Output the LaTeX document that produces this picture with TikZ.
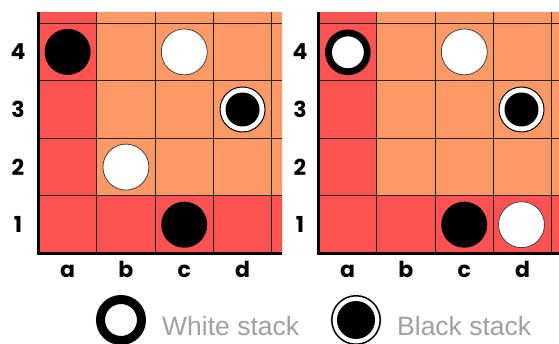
\documentclass[tikz,border=0pt]{standalone}
\usepackage{fontspec}
\setmainfont{Liberation Sans}
\newfontfamily\labfont{Poppins}
\definecolor{cellred}{RGB}{255,82,82}
\definecolor{cellorange}{RGB}{255,153,102}
\definecolor{legendgray}{RGB}{160,160,160}
\tikzset{
  whitepiece/.style={circle, fill=white, draw=black!75, line width=0.8pt, inner sep=0pt, minimum size=46pt},
  blackpiece/.style={circle, fill=black, inner sep=0pt, minimum size=46pt},
  whitestack/.style={circle, fill=white, draw=black, line width=6.8pt, inner sep=0pt, minimum size=38.8pt},
  blackstack/.style={circle, fill=white, draw=black, line width=1pt, inner sep=0pt, minimum size=45pt,
    path picture={\fill[black] (path picture bounding box.center) circle (#1);}},
  blackstack/.default=17pt,
  gridline/.style={line width=0.9pt, draw=black!85},
  boardframe/.style={line width=3pt, draw=black, line join=miter},
  boardlab/.style={font=\labfont\bfseries\fontsize{22}{22}\selectfont, anchor=base, inner sep=0pt},
  legendtext/.style={font=\fontsize{26.5}{26.5}\selectfont, text=legendgray, anchor=base west, inner sep=0pt},
}
\begin{document}
\begin{tikzpicture}[x=1pt,y=-1pt]
\useasboundingbox (0,0) rectangle (559,344);
% boards
\foreach \ox/\ex/\side in {38.5/282/L, 318.5/559/R}{
  \begin{scope}
    \clip (\ox,12) rectangle (\ex,253.5);
    \fill[cellorange] (\ox,12) rectangle (\ox+300,253.5);
    \fill[cellred] (\ox,12) rectangle (\ox+58.3,253.5);
    \fill[cellred] (\ox,195.9) rectangle (\ox+300,253.5);
    \foreach \i in {1,...,4}{
      \draw[gridline] (\ox+\i*58.3,12) -- (\ox+\i*58.3,253.5);
      \draw[gridline] (\ox,253.5-\i*57.6) -- (\ex,253.5-\i*57.6);
    }
  \end{scope}
  \draw[boardframe] (\ox,12) -- (\ox,253.5) -- (\ex,253.5);
}
% row labels
\foreach \r/\y in {4/60, 3/117.6, 2/175.2, 1/232.8}{
  \node[boardlab] (rowL\r) at (18,\y) {\r};
  \node[boardlab] (rowR\r) at (300,\y) {\r};
}
% column labels
\foreach \c/\xl/\xr in {a/67.65/347.65, b/125.95/405.95, c/184.25/464.25, d/242.55/522.55}{
  \node[boardlab] (colL\c) at (\xl,278) {\c};
  \node[boardlab] (colR\c) at (\xr,278) {\c};
}
% left board pieces
\node[blackpiece] (La4) at (67.65,51.9) {};
\node[whitepiece] (Lc4) at (184.25,51.9) {};
\node[blackstack] (Ld3) at (242.55,109.5) {};
\node[whitepiece] (Lb2) at (125.95,167.1) {};
\node[blackpiece] (Lc1) at (184.25,224.7) {};
% right board pieces
\node[whitestack] (Ra4) at (347.9,52.3) {};
\node[whitepiece] (Rc4) at (464.25,51.9) {};
\node[blackstack] (Rd3) at (521.5,109.5) {};
\node[blackpiece] (Rc1) at (464.25,224.7) {};
\node[whitepiece] (Rd1) at (521.5,224.7) {};
% legend
\node[whitestack, line width=9pt, minimum size=41pt] (legW) at (121,320) {};
\node[legendtext] (legWt) at (162,335) {White stack};
\node[blackstack=19pt, line width=1.5pt, minimum size=48.5pt] (legB) at (356,320) {};
\node[legendtext] (legBt) at (397,335) {Black stack};
\end{tikzpicture}
\end{document}
